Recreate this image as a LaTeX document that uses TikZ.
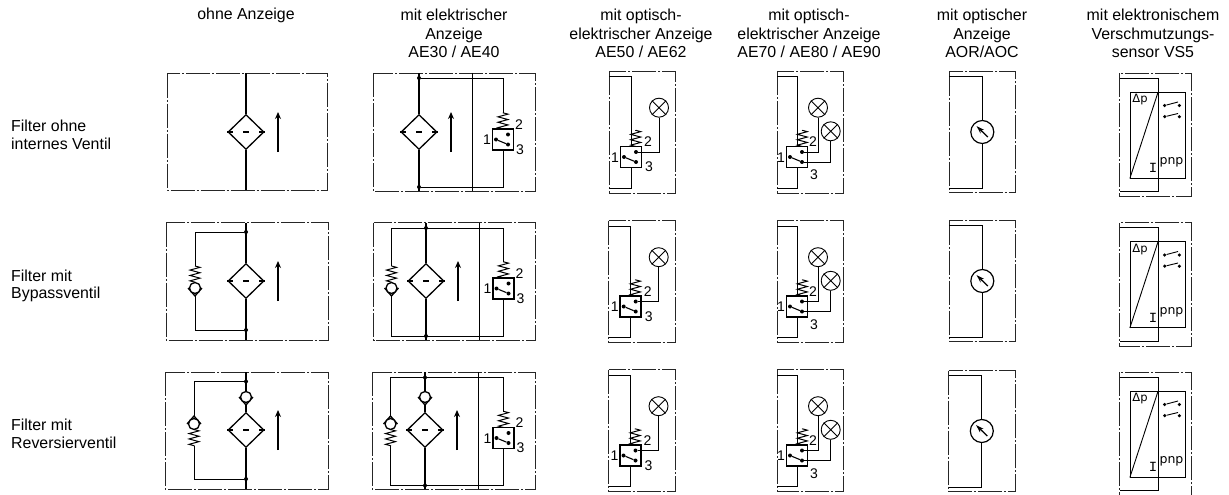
\documentclass[tikz,border=0pt]{standalone}
\usepackage{fontspec}
\setmainfont{Liberation Sans}
\newfontfamily\techfont{DejaVu Sans}
\newfontfamily\monofont{Liberation Mono}
\usepackage{xcolor}
\usetikzlibrary{positioning}
\usetikzlibrary{shapes.geometric}
\usetikzlibrary{arrows.meta}
\usetikzlibrary{decorations.pathmorphing}

\tikzset{
  frame/.style={draw=black!85,line width=.9pt,dash pattern=on 24pt off 2pt on 2pt off 2pt},
  pipe/.style={draw,line width=.9pt},
  mainpipe/.style={draw,line width=1.5pt},
  filterdia/.style={diamond,draw,line width=1.3pt,inner sep=0pt,minimum width=36pt,minimum height=35pt},
  flow/.style={draw,line width=1.4pt,-{Stealth[length=7pt,width=6pt]}},
  joint/.style={circle,fill=black,inner sep=0pt,minimum size=4pt},
  ball/.style={circle,draw,fill=white,line width=1.3pt,inner sep=0pt,minimum size=11pt},
  springline/.style={draw,line width=1pt,decorate,decoration={zigzag,segment length=5.4pt,amplitude=5pt}},
  switchbox/.style={rectangle,draw,line width=1.5pt,inner sep=0pt,minimum size=21pt},
  lamp/.style={circle,draw,line width=.9pt,inner sep=0pt,minimum size=19pt},
  gauge/.style={circle,draw,line width=1.2pt,inner sep=0pt,minimum size=23pt},
  techlabel/.style={font=\fontsize{14}{15}\selectfont,inner sep=0pt},
  headlabel/.style={align=center,inner sep=0pt,font=\fontsize{15.9}{18.6}\selectfont},
  rowlabel/.style={align=left,anchor=west,inner sep=0pt,font=\fontsize{15.9}{17.7}\selectfont}
}

% filter diamond with its dashed middle line
\newcommand{\filtersym}[3]{
  \node[filterdia] (#1) at (#2,#3) {};
  \coordinate (#1c1) at (#2-3,#3);
  \coordinate (#1c2) at (#2+3,#3);
  \draw[line width=1.2pt] (#1.west) -- ++(6,0) (#1c1) -- (#1c2) (#1.east) -- ++(-6,0);
}
\newcommand{\flowsym}[3]{
  \coordinate (#1s) at (#2,#3+20);
  \coordinate (#1e) at (#2,#3-20);
  \path[flow] (#1s) -- (#1e);
}
% valve ball, seat below (1) or above (-1)
\newcommand{\valvesym}[4]{
  \coordinate (#1l) at (#2-7,#3);
  \coordinate (#1r) at (#2+7,#3);
  \coordinate (#1a) at (#2,#3+8*#4);
  \draw[line width=1.3pt] (#1l) -- (#1a) -- (#1r);
  \node[ball] (#1) at (#2,#3) {};
}
% switch with spring on top, label 3 at an offset
\newcommand{\switchsym}[6]{
  \node[switchbox] (#1) at (#2,#3) {};
  \coordinate (#1p) at (#2+#4,#3-10.5);
  \coordinate (#1t) at (#2+#4,#3-27);
  \path[springline] (#1p) -- (#1t);
  \node[joint] (#1a) at (#2-7,#3) {};
  \node[joint] (#1b) at (#2+5,#3-5) {};
  \node[joint] (#1d) at (#2+5,#3+5) {};
  \draw[line width=1.1pt] (#1a) -- (#1d);
  \node[techlabel] (#1n1) at (#2-16,#3+.5) {1};
  \node[techlabel] (#1n2) at (#2+#5,#3-15) {2};
  \node[techlabel] (#1n3) at (#2+#5+1,#3+#6) {3};
}
\newcommand{\lampsym}[3]{
  \node[lamp] (#1) at (#2,#3) {};
  \draw[line width=.9pt] (#1.45) -- (#1.225) (#1.135) -- (#1.315);
}
% optical-electrical, one lamp
\newcommand{\onelampcell}[3]{
\begin{scope}[shift={(#2,#3)}]
  \coordinate (#1nw) at (609,71);
  \coordinate (#1se) at (675.7,193);
  \path[frame] (#1nw) rectangle (#1se);
  \switchsym{#1sw}{631}{157}{4.7}{17}{10}
  \lampsym{#1l}{659}{107.7}
  \coordinate (#1i1) at (609,76.7);
  \coordinate (#1i2) at (631,76.7);
  \coordinate (#1i3) at (631,188);
  \coordinate (#1i4) at (609,188);
  \coordinate (#1w) at (659,152);
  \path[pipe] (#1i1) -- (#1i2) -- (#1sw.north -| #1i2);
  \path[pipe] (#1sw.south -| #1i3) -- (#1i3) -- (#1i4);
  \path[pipe] (#1l.south) -- (#1w) -- (#1swb);
\end{scope}
}
% optical-electrical, two lamps
\newcommand{\twolampcell}[3]{
\begin{scope}[shift={(#2,#3)}]
  \coordinate (#1nw) at (777,71);
  \coordinate (#1se) at (843.5,193);
  \path[frame] (#1nw) rectangle (#1se);
  \switchsym{#1sw}{797}{157}{5.3}{16}{18}
  \lampsym{#1l}{818}{107.7}
  \lampsym{#1m}{830.7}{131.3}
  \coordinate (#1i1) at (777,76.7);
  \coordinate (#1i2) at (797.3,76.7);
  \coordinate (#1i3) at (797.3,188);
  \coordinate (#1i4) at (777,188);
  \coordinate (#1w) at (818,152);
  \coordinate (#1v) at (830.7,162);
  \path[pipe] (#1i1) -- (#1i2) -- (#1sw.north -| #1i2);
  \path[pipe] (#1sw.south -| #1i3) -- (#1i3) -- (#1i4);
  \path[pipe] (#1l.south) -- (#1w) -- (#1swb);
  \path[pipe] (#1m.south) -- (#1v) -- (#1swd);
\end{scope}
}
\newcommand{\gaugecell}[3]{
\begin{scope}[shift={(#2,#3)}]
  \coordinate (#1nw) at (949.3,71.7);
  \coordinate (#1se) at (1015.7,192.3);
  \path[frame] (#1nw) rectangle (#1se);
  \node[gauge] (#1g) at (982.3,132) {};
  \coordinate (#1i1) at (949.3,76);
  \coordinate (#1i2) at (982.3,76);
  \coordinate (#1i3) at (982.3,188);
  \coordinate (#1i4) at (949.3,188);
  \coordinate (#1n1) at (987.8,137);
  \coordinate (#1n2) at (976.5,126);
  \path[pipe] (#1i1) -- (#1i2) -- (#1g.north);
  \path[pipe] (#1g.south) -- (#1i3) -- (#1i4);
  \draw[line width=1.3pt,-{Stealth[length=8pt,width=5pt]}] (#1n1) -- (#1n2);
\end{scope}
}
\newcommand{\sensorcell}[3]{
\begin{scope}[shift={(#2,#3)}]
  \coordinate (#1nw) at (1119.7,73.3);
  \coordinate (#1se) at (1191,196.7);
  \path[frame] (#1nw) rectangle (#1se);
  \node[draw,line width=.9pt,rectangle,inner sep=0pt,minimum width=55.4pt,minimum height=85.7pt] (#1b) at (1158,135.15) {};
  \coordinate (#1i1) at (1119.7,78.3);
  \coordinate (#1i2) at (1158,78.3);
  \coordinate (#1i3) at (1158,191.7);
  \coordinate (#1i4) at (1119.7,191.7);
  \coordinate (#1t) at (1158,92.3);
  \path[pipe] (#1i1) -- (#1i2) -- (#1i3) -- (#1i4);
  \path[pipe] (#1b.south west) -- (#1t);
  \node[techlabel,font=\techfont\fontsize{11.5}{13}\selectfont] (#1dp) at (1140,100) {Δp};
  \node[techlabel,font=\monofont\fontsize{14}{15}\selectfont] (#1ii) at (1153,168) {I};
  \node[techlabel,font=\techfont\fontsize{12.5}{14}\selectfont] (#1pnp) at (1171.5,162.5) {pnp};
  \node[joint,minimum size=3.5pt] (#1a1) at (1164.7,105.5) {};
  \node[joint,minimum size=3.5pt] (#1a2) at (1179.3,105.5) {};
  \node[joint,minimum size=3.5pt] (#1a3) at (1164.7,116.7) {};
  \node[joint,minimum size=3.5pt] (#1a4) at (1179.3,116.7) {};
  \coordinate (#1c1) at (1178,102);
  \coordinate (#1c2) at (1178,113.5);
  \path[pipe] (#1a1) -- (#1c1) (#1a3) -- (#1c2);
\end{scope}
}

\begin{document}
\begin{tikzpicture}[x=1pt,y=-1pt]
\useasboundingbox (0,0) rectangle (1229,495);

   \node[headlabel] (h_1) at (246,15.5) {ohne Anzeige};
   \node[headlabel] (h_2) at (454,33.5) {mit elektrischer\\Anzeige\\AE30 / AE40};
   \node[headlabel] (h_3) at (641,33.5) {mit optisch-\\elektrischer Anzeige\\AE50 / AE62};
   \node[headlabel] (h_4) at (809,33.5) {mit optisch-\\elektrischer Anzeige\\AE70 / AE80 / AE90};
   \node[headlabel] (h_5) at (982,33.5) {mit optischer\\Anzeige\\AOR/AOC};
   \node[headlabel] (h_6) at (1153,33.5) {mit elektronischem\\Verschmutzungs-\\sensor VS5};

   \node[rowlabel] (r_1) at (11,135) {Filter ohne\\internes Ventil};
   \node[rowlabel] (r_2) at (11,286) {Filter mit\\Bypassventil};
   \node[rowlabel] (r_3) at (11,434) {Filter mit\\Reversierventil};

% column 1
   \coordinate (a1nw) at (167,73.5);
   \coordinate (a1se) at (327,190);
   \path[frame] (a1nw) rectangle (a1se);
   \filtersym{a1f}{246}{132}
   \flowsym{a1q}{278}{132}
   \path[mainpipe] (a1f.north) -- (a1f.north |- a1nw) (a1f.south) -- (a1f.south |- a1se);

   \coordinate (a2nw) at (166,222.5);
   \coordinate (a2se) at (328,340);
   \path[frame] (a2nw) rectangle (a2se);
   \filtersym{a2f}{246}{281}
   \flowsym{a2q}{278}{281}
   \path[mainpipe] (a2f.north) -- (a2f.north |- a2nw) (a2f.south) -- (a2f.south |- a2se);
   \node[joint] (a2j) at (246,232) {};
   \node[joint] (a2k) at (246,330) {};
   \valvesym{a2v}{195}{288}{1}
   \coordinate (a2p) at (195,232);
   \coordinate (a2q1) at (195,266);
   \coordinate (a2q2) at (195,282.5);
   \coordinate (a2w) at (195,330);
   \path[pipe] (a2j) -- (a2p) -- (a2q1);
   \path[springline] (a2q1) -- (a2q2);
   \path[pipe] (a2va) -- (a2w) -- (a2k);

   \coordinate (a3nw) at (165,372);
   \coordinate (a3se) at (328,489);
   \path[frame] (a3nw) rectangle (a3se);
   \filtersym{a3f}{246}{430}
   \flowsym{a3q}{278}{430}
   \valvesym{a3m}{246}{397}{1}
   \path[mainpipe] (a3m.north) -- (a3m.north |- a3nw) (a3ma) -- (a3f.north) (a3f.south) -- (a3f.south |- a3se);
   \node[joint] (a3j) at (246,381.5) {};
   \node[joint] (a3k) at (246,479) {};
   \valvesym{a3v}{194}{424}{-1}
   \coordinate (a3p) at (194,381.5);
   \coordinate (a3q1) at (194,429.5);
   \coordinate (a3q2) at (194,446);
   \coordinate (a3w) at (194,479);
   \path[pipe] (a3j) -- (a3p) -- (a3va);
   \path[springline] (a3q1) -- (a3q2);
   \path[pipe] (a3q2) -- (a3w) -- (a3k);

% column 2
   \coordinate (b1nw) at (373,73);
   \coordinate (b1se) at (535,191);
   \path[frame] (b1nw) rectangle (b1se);
   \filtersym{b1f}{419}{132}
   \flowsym{b1q}{451}{132}
   \path[mainpipe] (b1f.north) -- (b1f.north |- b1nw) (b1f.south) -- (b1f.south |- b1se);
   \node[joint] (b1j) at (419,78) {};
   \node[joint] (b1k) at (419,187) {};
   \switchsym{b1s}{503}{139.5}{0}{16}{10}
   \coordinate (b1u) at (503,78);
   \coordinate (b1d) at (503,187);
   \coordinate (b1i) at (472,73);
   \coordinate (b1o) at (472,191);
   \path[pipe] (b1j) -- (b1u) -- (b1st);
   \path[pipe] (b1s.south) -- (b1d) -- (b1k);
   \path[pipe] (b1i) -- (b1o);

   \coordinate (b2nw) at (373.5,222.5);
   \coordinate (b2se) at (535,340);
   \path[frame] (b2nw) rectangle (b2se);
   \filtersym{b2f}{426}{281}
   \flowsym{b2q}{458}{281}
   \path[mainpipe] (b2f.north) -- (b2f.north |- b2nw) (b2f.south) -- (b2f.south |- b2se);
   \node[joint] (b2j) at (426,228) {};
   \node[joint] (b2k) at (426,336) {};
   \switchsym{b2s}{503.5}{288.5}{0}{16}{10}
   \valvesym{b2v}{391.5}{288}{1}
   \coordinate (b2a) at (391.5,228.5);
   \coordinate (b2b) at (503.5,228.5);
   \coordinate (b2c) at (503.5,336.5);
   \coordinate (b2e) at (391.5,336.5);
   \coordinate (b2q1) at (391.5,266);
   \coordinate (b2q2) at (391.5,282.5);
   \coordinate (b2i) at (479.5,222.5);
   \coordinate (b2o) at (479.5,340);
   \path[pipe] (b2q1) -- (b2a) -- (b2b) -- (b2st);
   \path[pipe] (b2s.south) -- (b2c) -- (b2e) -- (b2va);
   \path[springline] (b2q1) -- (b2q2);
   \path[pipe] (b2i) -- (b2o);

   \coordinate (b3nw) at (372,372);
   \coordinate (b3se) at (535,489);
   \path[frame] (b3nw) rectangle (b3se);
   \filtersym{b3f}{425}{430}
   \flowsym{b3q}{457}{430}
   \valvesym{b3m}{425}{397}{1}
   \path[mainpipe] (b3m.north) -- (b3m.north |- b3nw) (b3ma) -- (b3f.north) (b3f.south) -- (b3f.south |- b3se);
   \node[joint] (b3j) at (425,377.5) {};
   \node[joint] (b3k) at (425,485.5) {};
   \switchsym{b3s}{503.5}{438}{0}{16}{10}
   \valvesym{b3v}{390.5}{424}{-1}
   \coordinate (b3a) at (390.5,377.5);
   \coordinate (b3b) at (503.5,377.5);
   \coordinate (b3c) at (503.5,485.5);
   \coordinate (b3e) at (390.5,485.5);
   \coordinate (b3q1) at (390.5,429.5);
   \coordinate (b3q2) at (390.5,446);
   \coordinate (b3i) at (478.5,372);
   \coordinate (b3o) at (478.5,489);
   \path[pipe] (b3va) -- (b3a) -- (b3b) -- (b3st);
   \path[pipe] (b3s.south) -- (b3c) -- (b3e) -- (b3q2);
   \path[springline] (b3q1) -- (b3q2);
   \path[pipe] (b3i) -- (b3o);

% columns 3 to 6
   \onelampcell{c1}{0}{0}
   \onelampcell{c2}{-.3}{149.5}
   \onelampcell{c3}{-.5}{298.5}
   \twolampcell{d1}{0}{0}
   \twolampcell{d2}{0}{149.5}
   \twolampcell{d3}{0}{298.5}
   \gaugecell{e1}{0}{0}
   \gaugecell{e2}{0}{149}
   \gaugecell{e3}{-.5}{299}
   \sensorcell{f1}{0}{0}
   \sensorcell{f2}{0}{149.5}
   \sensorcell{f3}{0}{299}

\end{tikzpicture}
\end{document}
